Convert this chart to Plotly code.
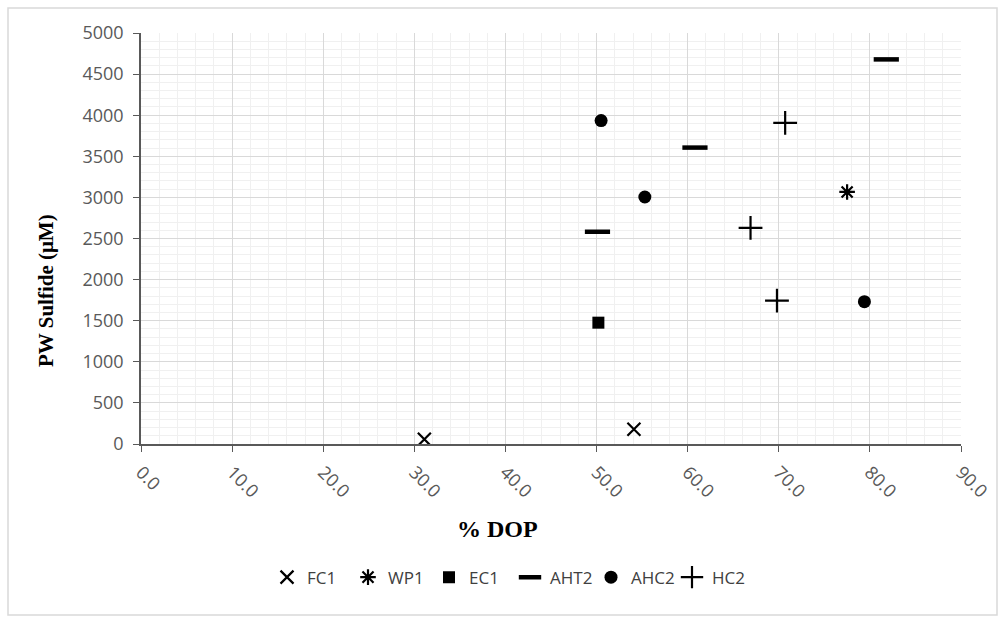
import plotly.graph_objects as go

fc1_x = [31.1, 54.1]
fc1_y = [57, 179]
wp1_x = [77.5]
wp1_y = [3066]
ec1_x = [50.2]
ec1_y = [1476]
aht2_x = [50.1, 60.8, 81.8]
aht2_y = [2582, 3606, 4679]
ahc2_x = [50.5, 55.3, 79.4]
ahc2_y = [3935, 3005, 1732]
hc2_x = [70.7, 66.9, 69.8]
hc2_y = [3907, 2630, 1744]

x_ticks = [0, 10, 20, 30, 40, 50, 60, 70, 80, 90]
y_ticks = list(range(0, 5001, 500))

series = [
    ("FC1", fc1_x, fc1_y, dict(symbol="x-thin-open", size=13, color="black", line=dict(width=2.2, color="black"))),
    ("WP1", wp1_x, wp1_y, dict(symbol="asterisk-open", size=13, color="black", line=dict(width=2.2, color="black"))),
    ("EC1", ec1_x, ec1_y, dict(symbol="square", size=12, color="black")),
    ("AHT2", aht2_x, aht2_y, dict(symbol="line-ew-open", size=18, color="black", line=dict(width=4.5, color="black"))),
    ("AHC2", ahc2_x, ahc2_y, dict(symbol="circle", size=13, color="black")),
    ("HC2", hc2_x, hc2_y, dict(symbol="cross-thin-open", size=17, color="black", line=dict(width=2.2, color="black"))),
]

fig = go.Figure()
for name, xs, ys, mk in series:
    fig.add_trace(go.Scatter(x=xs, y=ys, mode="markers", name=name, marker=mk))

tick_font = dict(family="Open Sans, sans-serif", size=18, color="#595959")

fig.update_layout(
    width=1005, height=623,
    margin=dict(l=141, r=44, t=33, b=179),
    paper_bgcolor="white", plot_bgcolor="white",
    showlegend=True,
    legend=dict(orientation="h", x=0.45, xanchor="center", y=-0.325, yanchor="middle",
                font=dict(family="Open Sans, sans-serif", size=17, color="#404040"),
                entrywidth=36, entrywidthmode="pixels",
                itemsizing="trace", itemwidth=30, traceorder="normal"),
    xaxis=dict(range=[0, 90], tickmode="array", tickvals=x_ticks, tickformat=".1f",
               tickangle=45, tickfont=tick_font, ticks="outside", ticklen=6, tickcolor="#595959",
               ticklabelstandoff=3,
               showline=True, linecolor="#595959", linewidth=1.5, zeroline=False,
               showgrid=True, gridcolor="#d9d9d9", gridwidth=1,
               minor=dict(dtick=2, showgrid=True, gridcolor="#f0f0f0", gridwidth=1)),
    yaxis=dict(range=[0, 5000], tickmode="array", tickvals=y_ticks,
               tickfont=tick_font, ticks="outside", ticklen=6, tickcolor="#595959",
               ticklabelstandoff=6,
               showline=True, linecolor="#595959", linewidth=1.5, zeroline=False,
               showgrid=True, gridcolor="#d9d9d9", gridwidth=1,
               minor=dict(dtick=100, showgrid=True, gridcolor="#f0f0f0", gridwidth=1)),
    shapes=[dict(type="rect", xref="paper", yref="paper",
                 x0=-133/820, x1=(997-141)/820, y0=-(615-444)/411, y1=1 + 25/411,
                 line=dict(color="#d9d9d9", width=1.5), fillcolor="rgba(0,0,0,0)", layer="below")],
    annotations=[
        dict(text="<b>% DOP</b>", xref="paper", yref="paper",
             x=(497-141)/820, y=-(529-444)/411, xanchor="center", yanchor="middle",
             showarrow=False, font=dict(family="Liberation Serif, serif", size=24, color="black")),
        dict(text="<b>PW Sulfide (μM)</b>", xref="paper", yref="paper",
             x=-(141-46)/820, y=(444-291)/411, xanchor="center", yanchor="middle",
             textangle=-90, showarrow=False,
             font=dict(family="Liberation Serif, serif", size=21, color="black")),
    ],
)

fig.write_html("out.html")
